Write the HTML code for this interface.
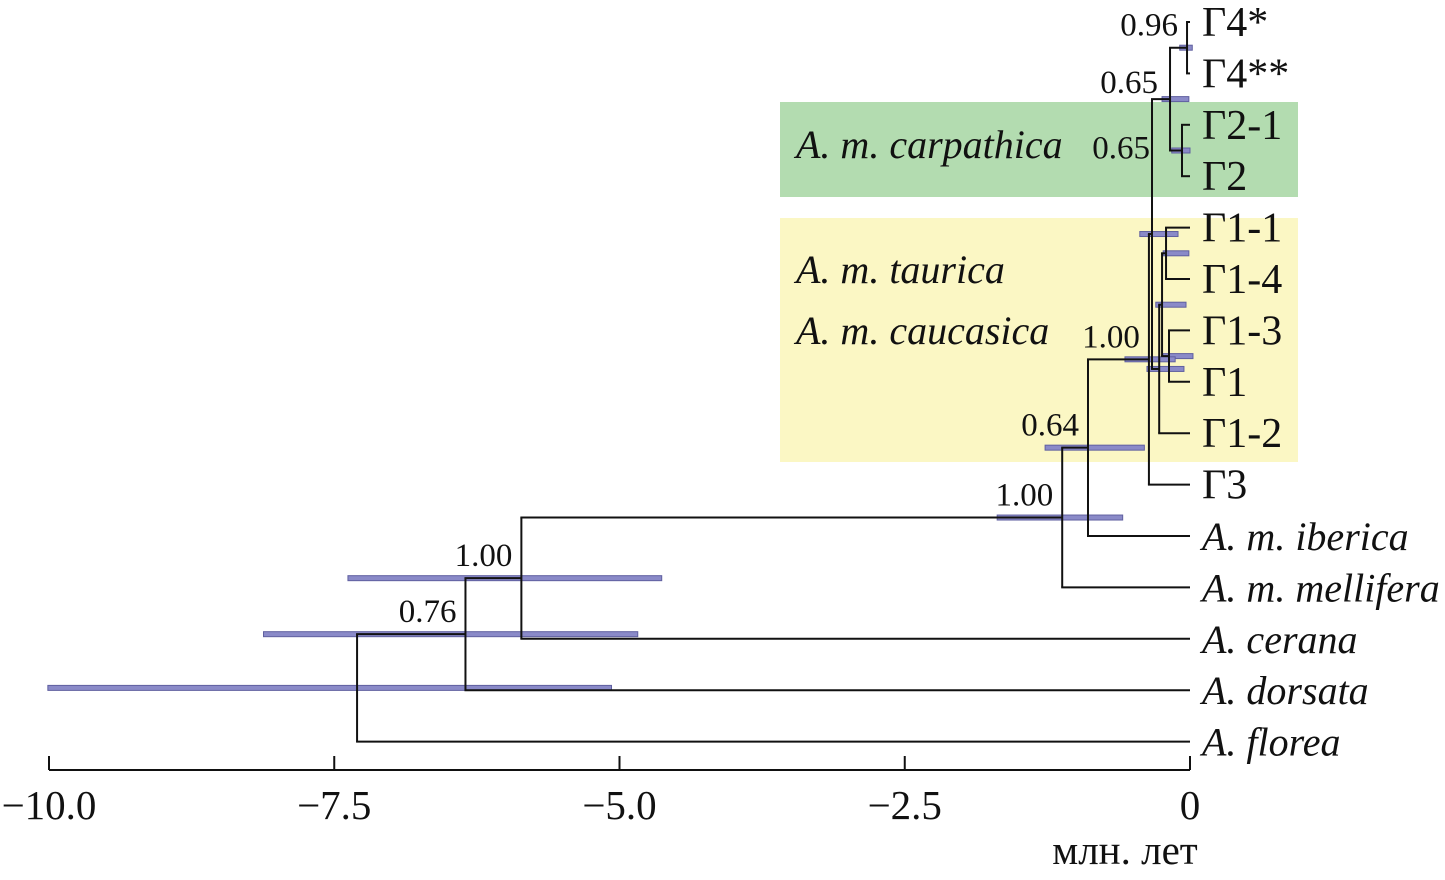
<!DOCTYPE html>
<html><head><meta charset="utf-8"><style>
body{margin:0;background:#fff}
svg{display:block}
text{font-family:"Liberation Serif",serif;fill:#111}
</style></head><body>
<svg width="1445" height="880" id="chart">
<rect x="780" y="102" width="518" height="95" fill="#b3dcb0"/>
<rect x="780" y="218" width="518" height="244" fill="#fbf7c4"/>
<text x="796" y="158" font-size="40" font-style="italic">A. m. carpathica</text>
<text x="796" y="283" font-size="40" font-style="italic">A. m. taurica</text>
<text x="796" y="344" font-size="40" font-style="italic">A. m. caucasica</text>
<g id="hpd"></g>
<g id="tree"></g>
<g id="labels"></g>
<g id="axis"></g>
<text x="1125" y="864" font-size="41" text-anchor="middle">млн. лет</text>
</svg>
<script>
const tipNames=["Γ4*","Γ4**","Γ2-1","Γ2","Γ1-1","Γ1-4","Γ1-3","Γ1","Γ1-2","Γ3","A. m. iberica","A. m. mellifera","A. cerana","A. dorsata","A. florea"];
const tipItalic=[0,0,0,0,0,0,0,0,0,0,1,1,1,1,1];
const nodeIds=["G4","G2","G4G2","G1a","G1b","G1ab","G1c","Gall","GG3","Niber","Nmell","Ncer","Ndors","Nflor"];
const nodeChildren=[["t0","t1"],["t2","t3"],["G4","G2"],["t4","t5"],["t6","t7"],["G1a","G1b"],["G1ab","t8"],["G4G2","G1c"],["Gall","t9"],["GG3","t10"],["Niber","t11"],["Nmell","t12"],["Ncer","t13"],["Ndors","t14"]];
const nodeAges=[-0.026,-0.07,-0.175,-0.21,-0.184,-0.245,-0.27,-0.333,-0.36,-0.894,-1.12,-5.86,-6.35,-7.30];
const hpdLow=[-0.09,-0.16,-0.245,-0.235,-0.237,-0.3,-0.377,-0.44,-0.57,-1.27,-1.69,-7.38,-8.12,-10.01];
const hpdHigh=[0.02,0.0,-0.01,-0.01,0.026,-0.035,-0.053,-0.105,-0.13,-0.40,-0.59,-4.63,-4.84,-5.07];
const support=["0.96","0.65","0.65","","","","","","1.00","0.64","1.00","1.00","0.76",""];
const xTicks=[-10,-7.5,-5,-2.5,0];
const xTickLabels=["−10.0","−7.5","−5.0","−2.5","0"];

const NS="http://www.w3.org/2000/svg";
const X=a=>1190+a*114.1;
const Yrow=i=>22+i*51.4;
function mk(tag,parent,attrs){const e=document.createElementNS(NS,tag);for(const k in attrs)e.setAttribute(k,attrs[k]);parent.appendChild(e);return e;}
const tree=document.getElementById('tree'),hpd=document.getElementById('hpd'),labels=document.getElementById('labels'),axis=document.getElementById('axis');
const pos={};
tipNames.forEach((n,i)=>{pos["t"+i]={x:X(0),y:Yrow(i)};});
nodeIds.forEach((id,i)=>{
  const ys=nodeChildren[i].map(c=>pos[c].y);
  pos[id]={x:X(nodeAges[i]),y:(ys[0]+ys[1])/2};
});
nodeIds.forEach((id,i)=>{
  const r=mk('rect',hpd,{x:X(hpdLow[i]),y:pos[id].y-2.5,width:X(hpdHigh[i])-X(hpdLow[i]),height:5,fill:'#8a8ac8',stroke:'#6060a0','stroke-width':1});
  
  
});
nodeIds.forEach((id,i)=>{
  const p=pos[id];
  const ys=nodeChildren[i].map(c=>pos[c].y);
  const v=mk('line',tree,{x1:p.x,x2:p.x,y1:Math.min(...ys),y2:Math.max(...ys),stroke:'#111','stroke-width':2});
  
  
  nodeChildren[i].forEach(c=>{
    const h=mk('line',tree,{x1:p.x-1,x2:pos[c].x,y1:pos[c].y,y2:pos[c].y,stroke:'#111','stroke-width':2});
    
    
  });
  if(support[i]){
    let dx=-9,dy=-12;
    if(id==="G2"){dx=-32;dy=8;}
    if(id==="G4G2"){dx=-12;dy=-6;}
    const t=mk('text',labels,{x:p.x+dx,y:p.y+dy,'font-size':33,'text-anchor':'end'});
    t.textContent=support[i];
    
    
  }
});
tipNames.forEach((n,i)=>{
  const t=mk('text',labels,{x:1202,y:Yrow(i)+14,'font-size':tipItalic[i]?40:42});
  if(tipItalic[i])t.setAttribute('font-style','italic');
  t.textContent=n;
  
  
});
const al=mk('line',axis,{x1:X(-10),x2:X(0),y1:770,y2:770,stroke:'#111','stroke-width':2});


xTicks.forEach((v,i)=>{
  const tk=mk('line',axis,{x1:X(v),x2:X(v),y1:756,y2:770,stroke:'#111','stroke-width':2});
  
  
  const t=mk('text',axis,{x:X(v),y:819,'font-size':41,'text-anchor':'middle'});
  t.textContent=xTickLabels[i];
  
  
});
</script>
</body></html>
